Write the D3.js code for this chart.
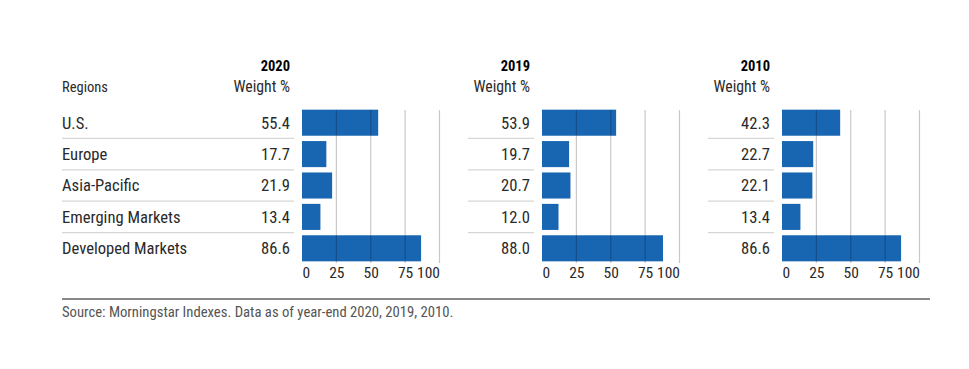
<!DOCTYPE html>
<html><head><meta charset="utf-8">
<script src="https://cdn.jsdelivr.net/npm/d3@7"></script>
<style>
body{margin:0;background:#fff;}
text{font-family:"Liberation Sans Narrow","Roboto Condensed","DejaVu Sans Condensed",sans-serif;}
</style></head>
<body><svg id="c" width="969" height="369"></svg>
<script>
const regions = ["U.S.", "Europe", "Asia-Pacific", "Emerging Markets", "Developed Markets"];
const years = ["2020", "2019", "2010"];
const weights2020 = [55.4, 17.7, 21.9, 13.4, 86.6];
const weights2019 = [53.9, 19.7, 20.7, 12.0, 88.0];
const weights2010 = [42.3, 22.7, 22.1, 13.4, 86.6];
const tickValues = [0, 25, 50, 75, 100];
const sourceText = "Source: Morningstar Indexes. Data as of year-end 2020, 2019, 2010.";

const series = [weights2020, weights2019, weights2010];
const svg = d3.select("#c");
const color = "#1865b2";
const textColor = "#2a2a2a";

const y = d3.scaleBand().domain(regions).range([107, 264]).paddingInner(0.17).paddingOuter(0.085);

const panelX0 = [302, 542, 782];
const axisW = 137.5;

// region labels
svg.append("text").attr("x", 62).attr("y", 92).attr("font-size", 14.5).attr("fill", textColor).text("Regions");
svg.selectAll(".rl").data(regions).join("text")
  .attr("x", 62).attr("y", d => y(d) + y.bandwidth()/2 + 5.8)
  .attr("font-size", 16.6).attr("fill", textColor).text(d => d);

series.forEach((vals, i) => {
  const x0 = panelX0[i];
  const x = d3.scaleLinear().domain([0, 100]).range([x0, x0 + axisW]);
  const right = x0 - 12;
  const sepLeft = i === 0 ? 62 : x0 - 74;
  const g = svg.append("g");
  // separators
  g.selectAll(".sep").data(regions.slice(1)).join("line")
    .attr("x1", sepLeft).attr("x2", right + 4)
    .attr("y1", d => y(d) - y.step()*y.paddingInner()/2)
    .attr("y2", d => y(d) - y.step()*y.paddingInner()/2)
    .attr("stroke", "#d6d6d6").attr("stroke-width", 1.2);
  // headers
  g.append("text").attr("x", right).attr("y", 71).attr("text-anchor", "end")
    .attr("font-size", 14.5).attr("font-weight", "bold").attr("fill", "#000").text(years[i]);
  g.append("text").attr("x", right).attr("y", 92).attr("text-anchor", "end")
    .attr("font-size", 15.8).attr("fill", textColor).text("Weight %");
  // values
  g.selectAll(".v").data(vals).join("text")
    .attr("x", right).attr("y", (d, j) => y(regions[j]) + y.bandwidth()/2 + 5.8)
    .attr("text-anchor", "end").attr("font-size", 16.6).attr("fill", textColor)
    .text(d => d.toFixed(1));
  // bars
  g.selectAll(".b").data(vals).join("rect")
    .attr("x", x(0)).attr("y", (d, j) => y(regions[j]))
    .attr("width", d => x(d) - x(0)).attr("height", y.bandwidth())
    .attr("fill", color);
  // gridlines
  g.selectAll(".gl").data(tickValues.slice(1)).join("line")
    .attr("x1", d => x(d)).attr("x2", d => x(d))
    .attr("y1", 110).attr("y2", 263)
    .attr("stroke", "rgba(0,0,0,0.22)").attr("stroke-width", 1.2);
  // axis
  const ax = g.append("g").attr("transform", "translate(0,263)")
    .call(d3.axisBottom(x).tickValues(tickValues).tickSize(0).tickPadding(4).tickFormat(d3.format("d")));
  ax.select(".domain").remove();
  ax.selectAll("text").attr("font-size", 15.5).attr("fill", textColor)
    .style("font-family", "'Liberation Sans Narrow','Roboto Condensed',sans-serif")
    .attr("text-anchor", d => d === tickValues[0] ? "start" : d === tickValues[tickValues.length-1] ? "end" : "middle");
});

// footer
svg.append("line").attr("x1", 62).attr("x2", 930).attr("y1", 299).attr("y2", 299)
  .attr("stroke", "#111").attr("stroke-width", 1.2);
svg.append("text").attr("x", 62).attr("y", 317).attr("font-size", 14.7).attr("fill", "#555").text(sourceText);
</script></body></html>
